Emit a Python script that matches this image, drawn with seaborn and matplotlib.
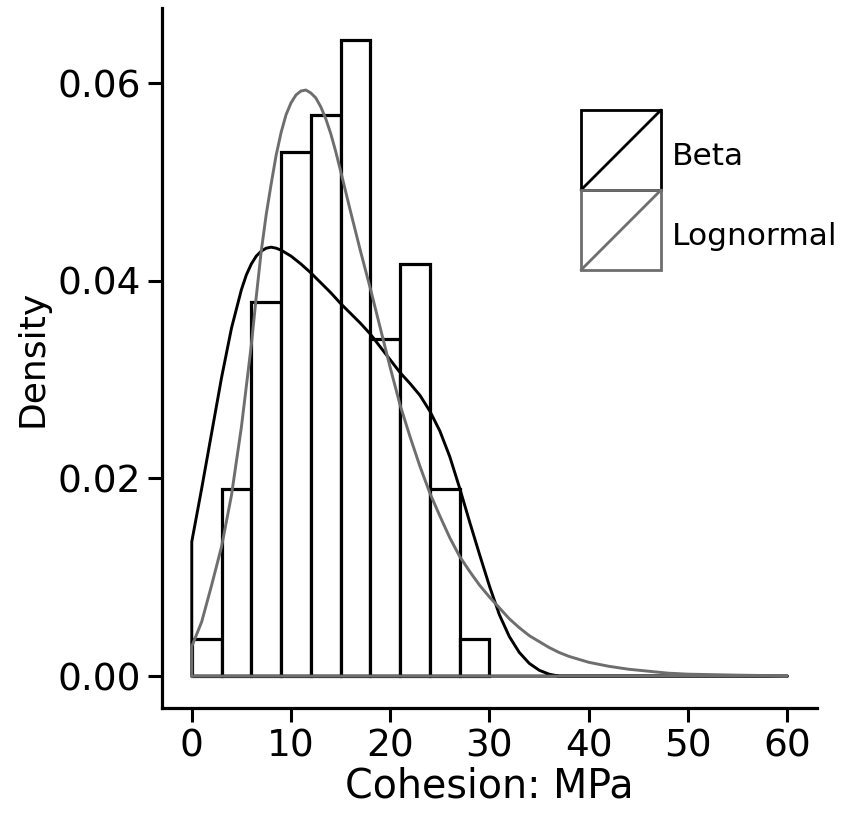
import numpy as np
import pandas as pd
import seaborn as sns
import matplotlib.pyplot as plt
from matplotlib.legend_handler import HandlerBase
from matplotlib.patches import Rectangle
from matplotlib.lines import Line2D

# ---------------- data ----------------
bin_edges = [0, 3, 6, 9, 12, 15, 18, 21, 24, 27, 30]
bin_counts = [1, 5, 10, 14, 15, 17, 9, 11, 5, 1]

beta_x = [0, 1, 2, 3, 4, 5, 5.5, 6, 6.5, 7, 7.5, 8, 8.5, 9, 10, 11, 12, 13,
          14, 15, 16, 17, 18, 19, 20, 21, 22, 23, 24, 25, 26, 27, 28, 29, 30,
          31, 32, 33, 34, 35, 36, 37, 60]
beta_y = [0.0136, 0.0190, 0.0246, 0.0302, 0.0352, 0.0391, 0.0406, 0.0417,
          0.0425, 0.0430, 0.0433, 0.0434, 0.0433, 0.0431, 0.0425, 0.0417,
          0.0408, 0.0398, 0.0388, 0.0377, 0.0367, 0.0357, 0.0346, 0.0333,
          0.0320, 0.0307, 0.0296, 0.0284, 0.0268, 0.0248, 0.0222, 0.0190,
          0.0156, 0.0123, 0.0091, 0.0062, 0.0040, 0.0024, 0.0013, 0.0006,
          0.0002, 0.0, 0.0]

logn_x = [0, 1, 2, 3, 4, 5, 6, 6.5, 7, 7.5, 8, 8.5, 9, 9.5, 10, 10.5, 11,
          11.5, 12, 12.5, 13, 13.5, 14, 14.5, 15, 16, 17, 18, 19, 20, 21, 22,
          23, 24, 25, 26, 27, 28, 29, 30, 31, 32, 33, 34, 35, 36, 37, 38, 39,
          40, 42, 44, 46, 48, 50, 55, 60]
logn_y = [0.0030, 0.0055, 0.0092, 0.0131, 0.0183, 0.0252, 0.0335, 0.0384,
          0.0430, 0.0467, 0.0498, 0.0527, 0.0550, 0.0568, 0.0580, 0.0588,
          0.0592, 0.0593, 0.0590, 0.0585, 0.0576, 0.0564, 0.0549, 0.0531,
          0.0511, 0.0470, 0.0430, 0.0392, 0.0352, 0.0312, 0.0274, 0.0242,
          0.0212, 0.0185, 0.0162, 0.0140, 0.0121, 0.0106, 0.0092, 0.0080,
          0.0069, 0.0058, 0.0049, 0.0041, 0.0035, 0.0029, 0.0024, 0.0020,
          0.0017, 0.0014, 0.0010, 0.0007, 0.0005, 0.0003, 0.0002, 0.0001,
          0.00003]

series_names = ["Beta", "Lognormal"]
series_colors = ["black", "#6e6e6e"]

x_ticks = [0, 10, 20, 30, 40, 50, 60]
y_ticks = [0.00, 0.02, 0.04, 0.06]
y_tick_labels = ["0.00", "0.02", "0.04", "0.06"]

# ---------------- style ----------------
sns.set_style("ticks")
plt.rcParams["font.family"] = ["DejaVu Sans"]
plt.rcParams["text.color"] = "black"
plt.rcParams["axes.labelcolor"] = "black"
plt.rcParams["xtick.color"] = "black"
plt.rcParams["ytick.color"] = "black"

fig = plt.figure(figsize=(8.42, 8.16), dpi=100)
ax = fig.add_axes([0.1924, 0.1324, 0.7779, 0.8578])

centers = [(a + b) / 2 for a, b in zip(bin_edges[:-1], bin_edges[1:])]
hist_df = pd.DataFrame({"x": centers, "w": bin_counts})
sns.histplot(data=hist_df, x="x", weights="w", bins=bin_edges, stat="density",
             color="white", edgecolor="black", linewidth=2.3, alpha=1,
             ax=ax, zorder=1)


def closed(xs, ys):
    px = [xs[0]] + list(xs) + [xs[-1], xs[0]]
    py = [0.0] + list(ys) + [0.0, 0.0]
    return pd.DataFrame({"x": px, "y": py})


for xs, ys, col in [(beta_x, beta_y, series_colors[0]),
                    (logn_x, logn_y, series_colors[1])]:
    d = closed(xs, ys)
    sns.lineplot(data=d, x="x", y="y", sort=False, estimator=None,
                 color=col, linewidth=2.1, ax=ax, zorder=3)

ax.set_xlim(-3, 63)
ax.set_ylim(-0.00322, 0.0676)
ax.set_xticks(x_ticks)
ax.set_yticks(y_ticks)
ax.set_yticklabels(y_tick_labels)
ax.tick_params(axis="both", labelsize=27, length=10, width=2.2,
               direction="out", pad=5, colors="black")
for s in ["left", "bottom"]:
    ax.spines[s].set_linewidth(2.3)
    ax.spines[s].set_color("black")
sns.despine(ax=ax)
ax.set_xlabel("Cohesion: MPa", fontsize=28.5, labelpad=1)
ax.set_ylabel("Density", fontsize=26, labelpad=6)

KEY_SHIFT = 6.0 * 72 / 100.0  # raise key box relative to label (points)


class BoxDiag(HandlerBase):
    def create_artists(self, legend, orig_handle, xdescent, ydescent,
                       width, height, fontsize, trans):
        c = orig_handle.get_color()
        x0 = -xdescent
        y0 = -ydescent + KEY_SHIFT
        r = Rectangle((x0, y0), width, height, fill=False,
                      edgecolor=c, lw=2.0, transform=trans)
        ln = Line2D([x0, x0 + width], [y0, y0 + height], color=c, lw=2.0,
                    transform=trans)
        return [r, ln]


leg_fs = 22.5
leg_px = leg_fs * 100 / 72.0
hh = (80.0 / leg_px - 0.245) / 0.65
handles = [Line2D([], [], color=c) for c in series_colors]
fig.legend(handles, series_names, handler_map={Line2D: BoxDiag()},
           loc="upper left", bbox_to_anchor=(581 / 842, 1 - 116 / 816),
           bbox_transform=fig.transFigure, frameon=False, borderpad=0,
           borderaxespad=0, handlelength=80.0 / leg_px, handleheight=hh,
           labelspacing=0, handletextpad=11.0 / leg_px, fontsize=leg_fs)

fig.savefig("out.png", dpi=100)
